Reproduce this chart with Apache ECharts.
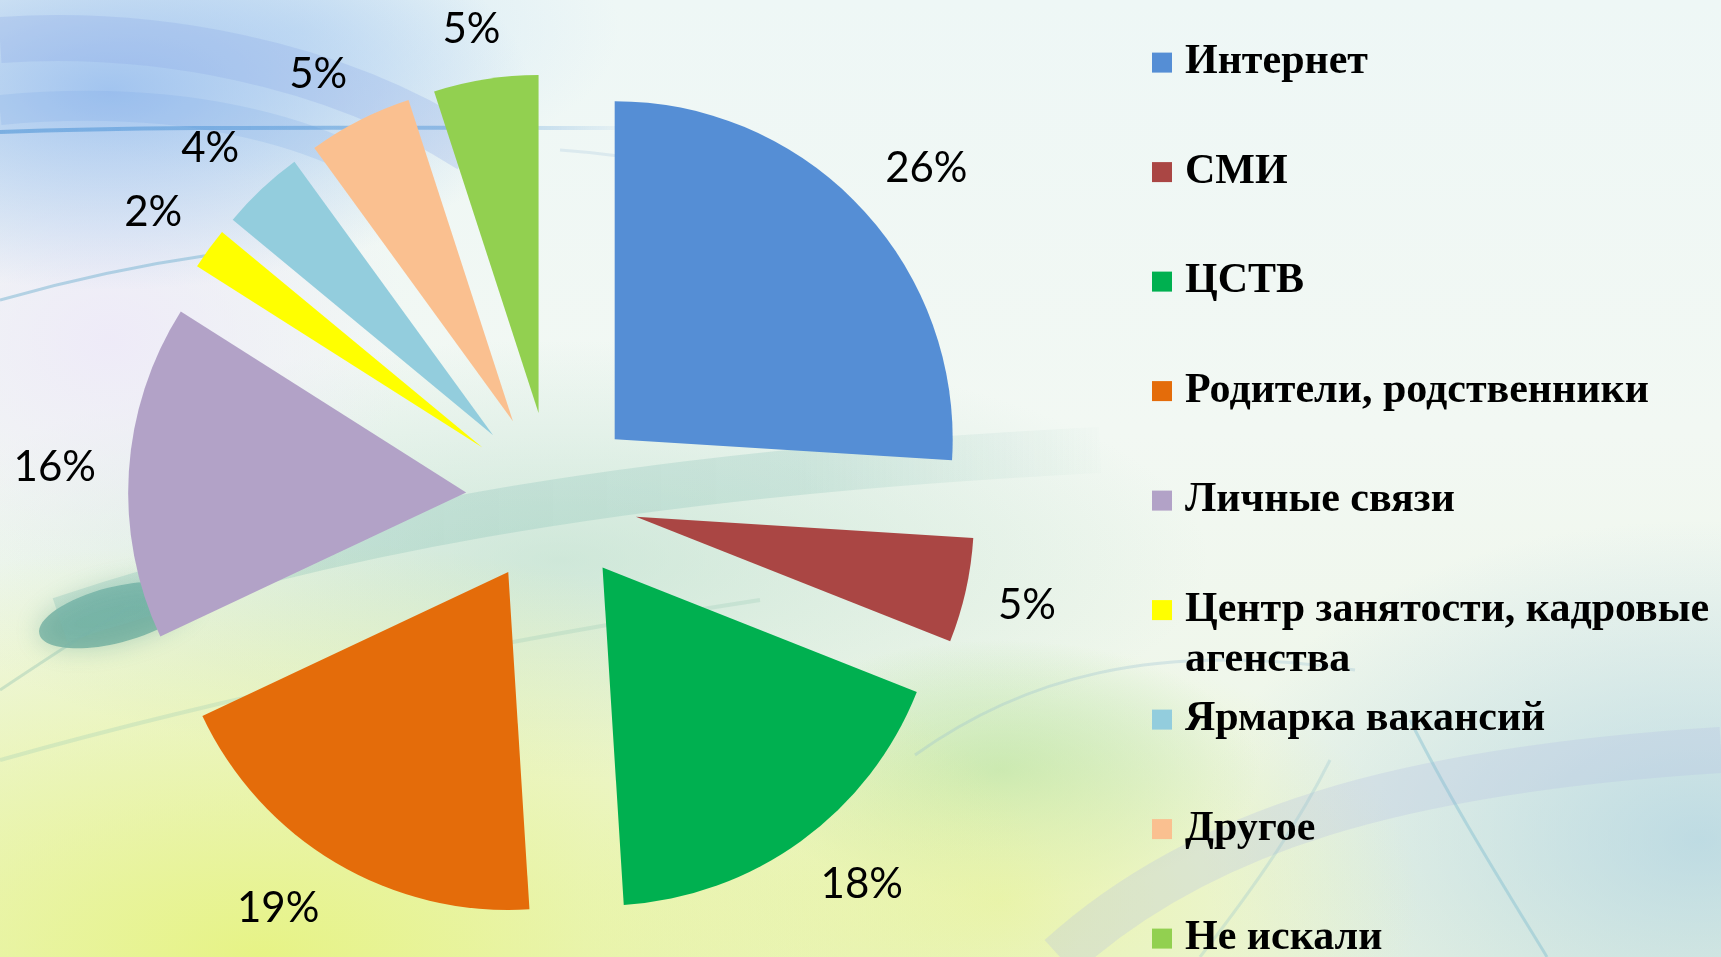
<!DOCTYPE html>
<html><head><meta charset="utf-8">
<script src="https://cdn.jsdelivr.net/npm/echarts@6/dist/echarts.min.js"></script>
<style>
html,body{margin:0;padding:0;width:1721px;height:957px;overflow:hidden;}
body{
 background:
  radial-gradient(ellipse 420px 200px at 110px 90px, rgba(150,188,238,0.85), rgba(150,188,238,0) 100%),
  radial-gradient(ellipse 320px 150px at 300px 30px, rgba(205,228,245,0.7), rgba(205,228,245,0) 100%),
  radial-gradient(ellipse 300px 240px at 110px 340px, rgba(238,234,248,0.95), rgba(238,234,248,0) 100%),
  radial-gradient(ellipse 820px 420px at 260px 960px, rgba(230,243,128,0.95), rgba(230,243,128,0) 100%),
  radial-gradient(ellipse 420px 260px at 1000px 900px, rgba(232,243,160,0.8), rgba(232,243,160,0) 100%),
  radial-gradient(ellipse 500px 320px at 1700px 840px, rgba(165,205,225,0.65), rgba(165,205,225,0) 100%),
  radial-gradient(ellipse 260px 130px at 1000px 770px, rgba(150,215,160,0.6), rgba(150,215,160,0) 100%),
  radial-gradient(ellipse 650px 220px at 560px 560px, rgba(165,212,190,0.45), rgba(165,212,190,0) 100%),
  linear-gradient(180deg, #eef7f6 0%, #f2f8f3 45%, #ecf5e2 100%);
}
#chart{width:1721px;height:957px;}
</style></head><body><div id="chart"></div>
<script>
const categories = ['Интернет','СМИ','ЦСТВ','Родители, родственники','Личные связи','Центр занятости, кадровые агенства','Ярмарка вакансий','Другое','Не искали'];
const values = [26,5,18,19,16,2,4,5,5];
const colors = ['#558ED5','#AA4644','#00B050','#E46C0A','#B2A2C7','#FFFF00','#93CDDD','#FAC090','#92D050'];

const chart = echarts.init(document.getElementById('chart'), null, {renderer:'canvas'});
const CENTER = [552, 498];
const LEG_LH = 50;

// the long item wraps onto a second line; an empty first line keeps its first text line level with the icon
const legendLabel = name => name === categories[5] ? '\nЦентр занятости, кадровые\nагенства' : name;

const legends = categories.map((n, i) => {
  const twoLine = i === 5;
  const cy = 62.6 + 109.5 * i;
  return {
    data: [n],
    orient: 'vertical',
    left: 1152,
    top: twoLine ? cy - LEG_LH * 1.5 : cy - LEG_LH / 2,
    padding: 0,
    itemWidth: 20,
    itemHeight: 20,
    icon: 'rect',
    selectedMode: false,
    formatter: legendLabel,
    textStyle: {
      fontFamily: 'Liberation Serif',
      fontWeight: 'bold',
      fontSize: 42,
      color: '#000',
      lineHeight: LEG_LH,
      padding: [0, 0, 0, 8]
    }
  };
});

const curve = (pts, color, w) => ({
  type: 'bezierCurve', silent: true, z: -10,
  shape: {x1: pts[0], y1: pts[1], cpx1: pts[2], cpy1: pts[3], cpx2: pts[4], cpy2: pts[5], x2: pts[6], y2: pts[7]},
  style: {stroke: color, lineWidth: w, fill: null}
});
const fade = (r, g, b, a) => new echarts.graphic.LinearGradient(0, 0, 1, 0, [
  {offset: 0, color: `rgba(${r},${g},${b},${a})`},
  {offset: 0.7, color: `rgba(${r},${g},${b},${a * 0.8})`},
  {offset: 1, color: `rgba(${r},${g},${b},0)`}
]);

chart.setOption({
  animation: false,
  backgroundColor: 'transparent',
  graphic: [
    curve([0,40, 150,30, 330,60, 470,150], 'rgba(140,170,230,0.28)', 46),
    curve([0,110, 160,95, 330,120, 430,210], 'rgba(120,165,230,0.20)', 30),
    curve([0,132, 160,126, 320,128, 640,128], fade(80,150,215,0.6), 4),
    curve([560,150, 700,160, 820,200, 880,280], 'rgba(130,170,210,0.18)', 3),
    curve([0,300, 70,280, 140,265, 210,255], 'rgba(90,165,200,0.40)', 3),
    {type: 'ellipse', silent: true, z: -10, rotation: 0.25, x: 115, y: 615,
     shape: {cx: 0, cy: 0, rx: 78, ry: 28},
     style: {fill: 'rgba(70,150,140,0.55)', shadowBlur: 25, shadowColor: 'rgba(70,150,140,0.6)'}},
    curve([60,620, 300,540, 600,475, 1100,450], fade(120,185,175,0.28), 46),
    curve([0,760, 250,690, 500,640, 760,600], 'rgba(150,200,180,0.28)', 4),
    curve([0,690, 60,650, 120,610, 180,580], 'rgba(120,180,170,0.30)', 3),
    curve([915,755, 1020,680, 1150,640, 1355,670], 'rgba(150,190,210,0.30)', 3),
    curve([1060,957, 1200,830, 1400,770, 1721,750], 'rgba(180,192,228,0.28)', 46),
    curve([1410,720, 1450,800, 1500,880, 1547,957], 'rgba(120,185,205,0.40)', 3),
    curve([1200,957, 1260,880, 1300,820, 1330,760], 'rgba(140,190,205,0.28)', 3)
  ],
  legend: legends,
  series: [
    {
      name: 'main',
      type: 'pie',
      center: CENTER,
      radius: [0, 338],
      startAngle: 90,
      clockwise: true,
      selectedMode: 'multiple',
      selectedOffset: 86,
      label: {show: false},
      labelLine: {show: false},
      emphasis: {disabled: true},
      data: categories.map((n, i) => ({name: n, value: values[i], selected: true, itemStyle: {color: colors[i]}}))
    },
    {
      name: 'labels',
      type: 'pie',
      center: CENTER,
      radius: [452, 456],
      startAngle: 90,
      clockwise: true,
      silent: true,
      legendHoverLink: false,
      itemStyle: {color: 'rgba(0,0,0,0)'},
      label: {show: true, position: 'inside', formatter: '{c}%', fontFamily: 'Lato', fontSize: 42, color: '#000'},
      labelLine: {show: false},
      labelLayout: function (p) {
        const r = p.labelRect;
        const lx = r.x + r.width / 2, ly = r.y + r.height / 2;
        const vx = lx - CENTER[0], vy = ly - CENTER[1];
        const len = Math.sqrt(vx * vx + vy * vy) || 1;
        const clamp = t => Math.max(-1, Math.min(1, t));
        return {dx: clamp(2 * vx / len) * r.width / 2, dy: clamp(2 * vy / len) * r.height * 0.4};
      },
      emphasis: {disabled: true},
      data: categories.map((n, i) => ({name: n, value: values[i]}))
    }
  ]
});
</script></body></html>
